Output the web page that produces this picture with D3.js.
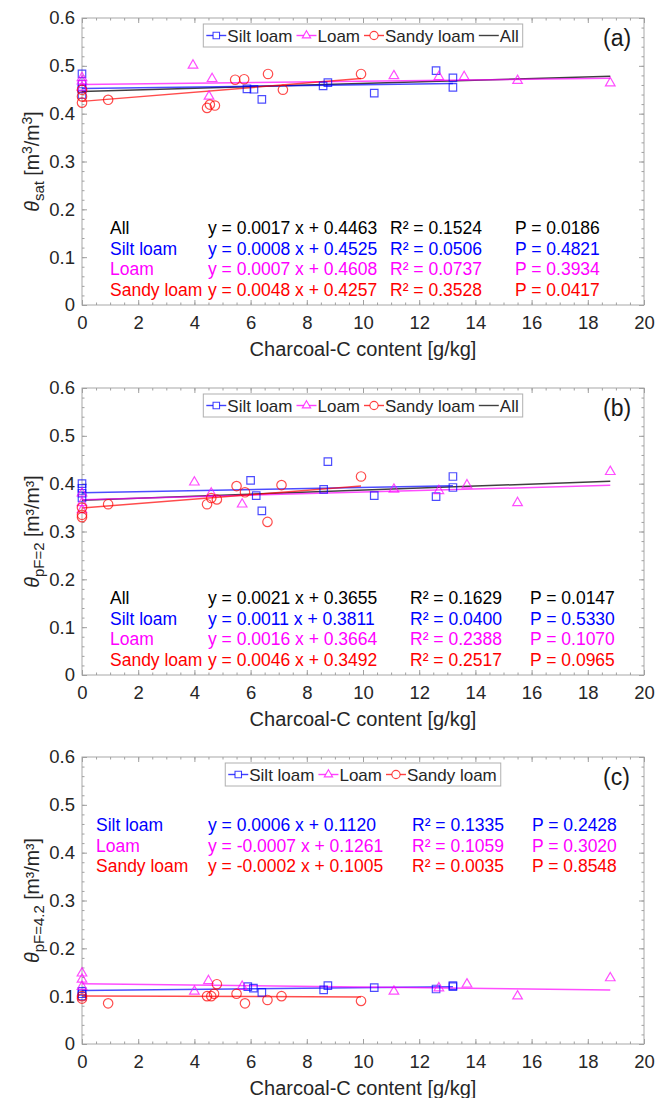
<!DOCTYPE html>
<html>
<head>
<meta charset="utf-8">
<script src="https://cdn.jsdelivr.net/npm/d3@7"></script>
<style>
body { margin: 0; background: #fff; }
text { font-family: "Liberation Sans", Arial, sans-serif; }
</style>
</head>
<body>
<svg id="chart" width="656" height="1098"></svg>
<script>
/*********************************************
    * data
*********************************************/
var xTicks = [0, 2, 4, 6, 8, 10, 12, 14, 16, 18, 20];
var yTicks = [0, 0.1, 0.2, 0.3, 0.4, 0.5, 0.6];

// (a) theta_sat
var siltSat  = [[0,0.483],[0,0.462],[0,0.452],[0,0.440],[5.87,0.452],[6.12,0.451],[6.4,0.430],[8.58,0.458],[8.75,0.465],[10.4,0.443],[12.6,0.490],[13.2,0.475],[13.2,0.455]];
var loamSat  = [[0,0.475],[0,0.468],[0,0.455],[3.95,0.501],[4.52,0.436],[4.63,0.473],[11.1,0.479],[12.7,0.477],[13.6,0.477],[15.5,0.469],[18.8,0.464]];
var sandySat = [[0,0.450],[0,0.436],[0,0.423],[0.93,0.429],[4.45,0.412],[4.55,0.419],[4.73,0.417],[5.45,0.471],[5.77,0.472],[6.62,0.483],[7.15,0.450],[9.93,0.483]];

// (b) theta_pF=2
var siltPF2  = [[0,0.400],[0,0.390],[0,0.380],[0,0.370],[6.0,0.407],[6.2,0.375],[6.4,0.343],[8.6,0.388],[8.75,0.446],[10.4,0.375],[12.6,0.373],[13.2,0.415],[13.2,0.392]];
var loamPF2  = [[0,0.380],[0,0.360],[0,0.345],[4.0,0.403],[4.6,0.380],[5.7,0.357],[11.1,0.388],[12.7,0.385],[13.7,0.397],[15.5,0.360],[18.8,0.425]];
var sandyPF2 = [[0,0.350],[0,0.335],[0,0.330],[0.93,0.357],[4.45,0.357],[4.6,0.370],[4.8,0.367],[5.5,0.395],[5.8,0.382],[6.6,0.320],[7.1,0.397],[9.93,0.415]];

// (c) theta_pF=4.2
var siltPF42  = [[0,0.110],[0,0.105],[0,0.100],[5.9,0.120],[6.1,0.117],[6.4,0.108],[8.6,0.113],[8.75,0.122],[10.4,0.118],[12.6,0.115],[13.2,0.120],[13.2,0.122]];
var loamPF42  = [[0,0.148],[0,0.135],[0,0.120],[4.0,0.110],[4.5,0.132],[5.7,0.120],[11.1,0.110],[12.7,0.117],[13.7,0.125],[15.5,0.100],[18.8,0.138]];
var sandyPF42 = [[0,0.100],[0,0.095],[0.93,0.085],[4.45,0.100],[4.6,0.100],[4.7,0.105],[4.8,0.125],[5.5,0.105],[5.8,0.085],[6.6,0.092],[7.1,0.100],[9.93,0.090]];

// regression fits: [group, slope, intercept, R2, P]
var fitsSat  = [["All",0.0017,0.4463,"0.1524","0.0186"],["Silt loam",0.0008,0.4525,"0.0506","0.4821"],["Loam",0.0007,0.4608,"0.0737","0.3934"],["Sandy loam",0.0048,0.4257,"0.3528","0.0417"]];
var fitsPF2  = [["All",0.0021,0.3655,"0.1629","0.0147"],["Silt loam",0.0011,0.3811,"0.0400","0.5330"],["Loam",0.0016,0.3664,"0.2388","0.1070"],["Sandy loam",0.0046,0.3492,"0.2517","0.0965"]];
var fitsPF42 = [["Silt loam",0.0006,0.1120,"0.1335","0.2428"],["Loam",-0.0007,0.1261,"0.1059","0.3020"],["Sandy loam",-0.0002,0.1005,"0.0035","0.8548"]];

var colors = {"Silt loam":"#0000ff","Loam":"#ff00ff","Sandy loam":"#ff0000","All":"#000000"};
var shapes = {"Silt loam":d3.symbolSquare,"Loam":d3.symbolTriangle,"Sandy loam":d3.symbolCircle};
var sizes  = {"Silt loam":56,"Loam":40,"Sandy loam":70};

/*********************************************
    * layout
*********************************************/
var svg = d3.select("#chart"),
    left = 82, right = 644, ph = 287;

var x = d3.scaleLinear().domain([0, 20]).range([left, right]);

var panels = [
  {top: 18,  tag: "(a)", sub: "sat",    supTex: true,
   groups: {"Silt loam": siltSat, "Loam": loamSat, "Sandy loam": sandySat}, fits: fitsSat,
   cols: [110, 208, 390, 515], row0: 234, legend: ["Silt loam","Loam","Sandy loam","All"]},
  {top: 388, tag: "(b)", sub: "pF=2",   supTex: false,
   groups: {"Silt loam": siltPF2, "Loam": loamPF2, "Sandy loam": sandyPF2}, fits: fitsPF2,
   cols: [110, 208, 410, 530], row0: 604, legend: ["Silt loam","Loam","Sandy loam","All"]},
  {top: 757, tag: "(c)", sub: "pF=4.2", supTex: false,
   groups: {"Silt loam": siltPF42, "Loam": loamPF42, "Sandy loam": sandyPF42}, fits: fitsPF42,
   cols: [96, 208, 412, 532], row0: 831, legend: ["Silt loam","Loam","Sandy loam"]}
];

panels.forEach(drawPanel);

function drawPanel(p) {
  var bottom = p.top + ph;
  var y = d3.scaleLinear().domain([0, 0.6]).range([bottom, p.top]);
  var g = svg.append("g");

  // box
  g.append("rect")
    .attr("x", left).attr("y", p.top)
    .attr("width", right - left).attr("height", ph)
    .attr("fill", "#fff").attr("stroke", "#a8a8a8").attr("stroke-width", 1);

  var xMinor = d3.range(0, 20.001, 0.5),
      yMinor = d3.range(0, 0.6001, 0.02);

  function tickAxis(axis, tr, size, vals, fmt) {
    var a = g.append("g").attr("transform", tr)
      .call(axis.tickValues(vals).tickSizeInner(size).tickSizeOuter(0));
    if (fmt === false) a.call(function(s){ s.selectAll("text").remove(); });
    a.select(".domain").remove();
    a.selectAll("line").attr("stroke", "#a0a0a0");
    return a;
  }
  // minor ticks, all four sides
  tickAxis(d3.axisBottom(x), "translate(0," + bottom + ")", -2.5, xMinor, false);
  tickAxis(d3.axisTop(x),    "translate(0," + p.top + ")", -2.5, xMinor, false);
  tickAxis(d3.axisLeft(y),   "translate(" + left + ",0)", -2.5, yMinor, false);
  tickAxis(d3.axisRight(y),  "translate(" + right + ",0)", -2.5, yMinor, false);
  // major ticks
  tickAxis(d3.axisTop(x),   "translate(0," + p.top + ")", -5, xTicks, false);
  tickAxis(d3.axisRight(y), "translate(" + right + ",0)", -5, yTicks, false);

  var xa = tickAxis(d3.axisBottom(x).tickPadding(11).tickFormat(d3.format("d")), "translate(0," + bottom + ")", -5, xTicks);
  xa.selectAll("text").attr("font-size", 18.5).attr("fill", "#262626")
    .attr("font-family", "Liberation Sans, Arial, sans-serif");
  var ya = tickAxis(d3.axisLeft(y).tickPadding(7).tickFormat(function(d){ return d === 0 ? "0" : d3.format(".1f")(d); }), "translate(" + left + ",0)", -5, yTicks);
  ya.selectAll("text").attr("font-size", 18.5).attr("fill", "#262626")
    .attr("font-family", "Liberation Sans, Arial, sans-serif");

  // axis titles
  g.append("text")
    .attr("x", (left + right) / 2).attr("y", bottom + 51)
    .attr("text-anchor", "middle").attr("font-size", 20).attr("fill", "#262626")
    .text("Charcoal-C content [g/kg]");

  var yl = g.append("text")
    .attr("transform", "translate(39," + (p.top + ph / 2) + ") rotate(-90)")
    .attr("text-anchor", "middle").attr("font-size", 19.5).attr("fill", "#262626");
  yl.append("tspan").attr("font-style", "italic").text("\u03b8");
  yl.append("tspan").attr("font-size", 15).attr("dy", 5).text(p.sub);
  if (p.supTex) {
    yl.append("tspan").attr("dy", -5).text(" [m");
    yl.append("tspan").attr("font-size", 14).attr("dy", -7).text("3");
    yl.append("tspan").attr("dy", 7).text("/m");
    yl.append("tspan").attr("font-size", 14).attr("dy", -7).text("3");
    yl.append("tspan").attr("dy", 7).text("]");
  } else {
    yl.append("tspan").attr("dy", -5).text(" [m\u00b3/m\u00b3]");
  }

  // regression lines
  var allPts = [];
  Object.keys(p.groups).forEach(function(k){ allPts = allPts.concat(p.groups[k]); });
  p.fits.forEach(function(f) {
    var pts = f[0] === "All" ? allPts : p.groups[f[0]];
    var x0 = d3.min(pts, function(d){ return d[0]; }),
        x1 = d3.max(pts, function(d){ return d[0]; });
    g.append("line")
      .attr("x1", x(x0)).attr("y1", y(f[1] * x0 + f[2]))
      .attr("x2", x(x1)).attr("y2", y(f[1] * x1 + f[2]))
      .attr("stroke", colors[f[0]]).attr("stroke-width", 1.5)
      .attr("stroke-opacity", f[0] === "All" ? 0.75 : 0.7);
  });

  // markers
  Object.keys(p.groups).forEach(function(k) {
    g.selectAll(null)
      .data(p.groups[k])
      .enter().append("path")
      .attr("transform", function(d){ return "translate(" + x(d[0]) + "," + y(d[1]) + ")"; })
      .attr("d", d3.symbol().type(shapes[k]).size(sizes[k]))
      .attr("fill", "none").attr("stroke", colors[k])
      .attr("stroke-width", 1.2).attr("stroke-opacity", 0.7);
  });

  // annotation
  p.fits.forEach(function(f, i) {
    var yy = p.row0 + i * 20.5;
    var fmt = function(v){ return v.toFixed(4); };
    var row = g.append("g").attr("fill", colors[f[0]]).attr("font-size", 17.5);
    row.append("text").attr("x", p.cols[0]).attr("y", yy).text(f[0]);
    row.append("text").attr("x", p.cols[1]).attr("y", yy)
      .text("y = " + fmt(f[1]) + " x + " + fmt(f[2]));
    row.append("text").attr("x", p.cols[2]).attr("y", yy).text("R\u00b2 = " + f[3]);
    row.append("text").attr("x", p.cols[3]).attr("y", yy).text("P = " + f[4]);
  });

  // legend
  var lg = g.append("g");
  var box = lg.append("rect").attr("fill", "#fff").attr("stroke", "#b0b0b0").attr("stroke-width", 1);
  var cx = 3, ly = p.top + 17.5;
  p.legend.forEach(function(name) {
    lg.append("line").attr("x1", cx).attr("x2", cx + 20).attr("y1", ly).attr("y2", ly)
      .attr("stroke", colors[name]).attr("stroke-width", 1.4).attr("stroke-opacity", 0.75);
    if (shapes[name]) {
      lg.append("path").attr("transform", "translate(" + (cx + 10) + "," + ly + ")")
        .attr("d", d3.symbol().type(shapes[name]).size(sizes[name] * 0.75))
        .attr("fill", "#fff").attr("stroke", colors[name]).attr("stroke-width", 1.1).attr("stroke-opacity", 0.75);
    }
    var t = lg.append("text").attr("x", cx + 21).attr("y", ly + 6)
      .attr("font-size", 17).attr("fill", "#262626").text(name);
    cx += 21 + t.node().getComputedTextLength() + 4;
  });
  var lw = cx + 0;
  box.attr("x", 0).attr("y", p.top + 6).attr("width", lw).attr("height", 23);
  lg.attr("transform", "translate(" + ((left + right) / 2 - lw / 2) + ",0)");

  // panel tag
  g.append("text").attr("x", 603).attr("y", p.top + 28)
    .attr("font-size", 23).attr("fill", "#1a1a1a").text(p.tag);
}
</script>
</body>
</html>
